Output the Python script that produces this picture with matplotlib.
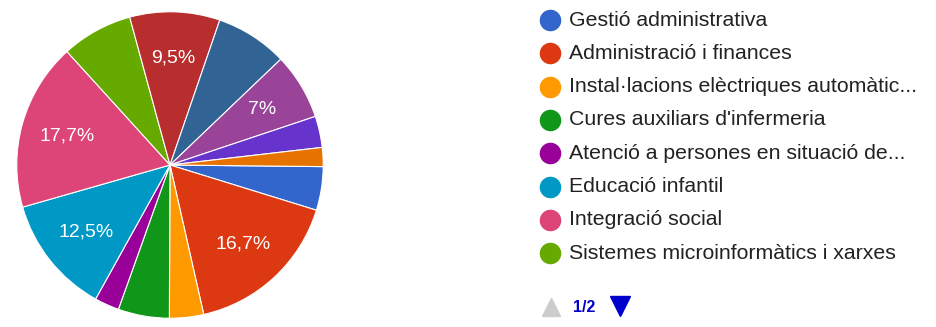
import matplotlib.pyplot as plt

# shares per slice, in % (clockwise from 3 o'clock)
values = [4.6, 16.7, 3.6, 5.4, 2.6, 12.5, 17.7, 7.5, 9.5, 7.6, 7.0, 3.3, 2.0]
colors = ['#3366cc', '#dc3912', '#ff9900', '#109618', '#990099', '#0099c6',
          '#dd4477', '#66aa00', '#b82e2e', '#316395', '#994499', '#6633cc',
          '#e67300']
slice_text = ['', '16,7%', '', '', '', '12,5%', '17,7%', '', '9,5%', '', '7%', '', '']

# first page of the legend
legend_names = ['Gestió administrativa',
                'Administració i finances',
                'Instal·lacions elèctriques automàtic...',
                'Cures auxiliars d\'infermeria',
                'Atenció a persones en situació de...',
                'Educació infantil',
                'Integració social',
                'Sistemes microinformàtics i xarxes']
page_text = '1/2'

W, H = 936, 327
fig = plt.figure(figsize=(W / 100, H / 100), dpi=100)
plt.rcParams['font.family'] = ['Liberation Sans', 'DejaVu Sans']

# -------- pie --------
cx, cy, r = 170, 165, 154
ax = fig.add_axes([(cx - r) / W, (H - cy - r) / H, 2 * r / W, 2 * r / H])
wedges, texts = ax.pie(values,
                       colors=colors,
                       labels=slice_text,
                       labeldistance=0.7,
                       startangle=-0.6,
                       counterclock=False,
                       wedgeprops=dict(edgecolor='white', linewidth=0.8),
                       textprops=dict(color='white', fontsize=14))
for t in texts:
    t.set_horizontalalignment('center')
    t.set_verticalalignment('center')
ax.set_xlim(-1.005, 1.005)
ax.set_ylim(-1.005, 1.005)
ax.set_aspect('equal')

# -------- legend --------
lax = fig.add_axes([0, 0, 1, 1])
lax.set_xlim(0, W)
lax.set_ylim(H, 0)
lax.axis('off')

row_y = [20 + i * 33.3 for i in range(len(legend_names))]
for i, name in enumerate(legend_names):
    lax.plot(550, row_y[i], 'o', ms=14.5, color=colors[i], mec=colors[i])
    lax.text(569, row_y[i], name, fontsize=15.3, color='#222222',
             va='center', ha='left')

# page navigation
lax.plot(551, 307, '^', ms=13, color='#cccccc')
lax.text(573, 307, page_text, fontsize=11.5, color='#0000cc',
         va='center', ha='left', fontweight='bold')
lax.plot(620, 306, 'v', ms=14, color='#0000cc')

fig.savefig('out.png', dpi=100)
